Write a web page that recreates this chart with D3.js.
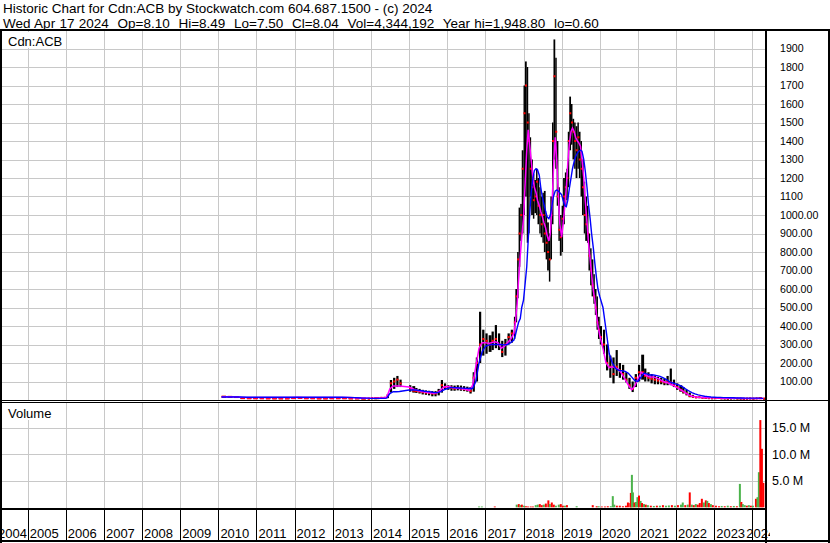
<!DOCTYPE html>
<html>
<head>
<meta charset="utf-8">
<script src="https://cdn.jsdelivr.net/npm/d3@7"></script>
<style>
  body { margin: 0; background: #fff; }
  svg { display: block; font-family: "Liberation Sans", Arial, sans-serif; }
</style>
</head>
<body>
<svg id="chart" width="830" height="543"></svg>
<script>
// ---- header text ----
const titleLine = "Historic Chart for Cdn:ACB by Stockwatch.com 604.687.1500 - (c) 2024"
const quoteLine = "Wed Apr 17 2024  Op=8.10  Hi=8.49  Lo=7.50  Cl=8.04  Vol=4,344,192  Year hi=1,948.80  lo=0.60"
const symbol = "Cdn:ACB"

// ---- price series (2010-2013 every 2 months, then monthly, semi-monthly around the 2018 bubble) ----
const dates = [
  "2010-02-01","2010-04-01","2010-06-01","2010-08-01","2010-10-01","2010-12-01",
  "2011-02-01","2011-04-01","2011-06-01","2011-08-01","2011-10-01","2011-12-01",
  "2012-02-01","2012-04-01","2012-06-01","2012-08-01","2012-10-01","2012-12-01",
  "2013-02-01","2013-04-01","2013-06-01","2013-08-01","2013-10-01","2013-12-01",
  "2014-01-01","2014-02-01","2014-03-01","2014-04-01","2014-05-01","2014-06-01","2014-07-01","2014-08-01","2014-09-01","2014-10-01",
  "2015-01-01","2015-02-01","2015-03-01","2015-04-01","2015-05-01","2015-06-01","2015-07-01","2015-08-01","2015-09-01","2015-10-01","2015-11-01","2015-12-01",
  "2016-01-01","2016-02-01","2016-03-01","2016-04-01","2016-05-01","2016-06-01","2016-07-01","2016-08-01","2016-09-01","2016-10-01","2016-11-01","2016-12-01",
  "2017-01-01","2017-02-01","2017-03-01","2017-04-01","2017-05-01","2017-06-01","2017-07-01","2017-08-01","2017-09-01",
  "2017-10-01","2017-10-15","2017-11-01","2017-11-15","2017-12-01","2017-12-15",
  "2018-01-01","2018-01-15","2018-02-01","2018-02-15","2018-03-01","2018-03-15","2018-04-01","2018-04-15","2018-05-01","2018-05-15","2018-06-01","2018-06-15",
  "2018-07-01","2018-07-15","2018-08-01","2018-08-15","2018-09-01","2018-09-15","2018-10-01","2018-10-15","2018-11-01","2018-11-15","2018-12-01","2018-12-15",
  "2019-01-01","2019-01-15","2019-02-01","2019-02-15","2019-03-01","2019-03-15","2019-04-01","2019-04-15","2019-05-01","2019-05-15","2019-06-01","2019-06-15",
  "2019-07-01","2019-07-15","2019-08-01","2019-08-15","2019-09-01","2019-09-15","2019-10-01","2019-10-15","2019-11-01","2019-11-15","2019-12-01","2019-12-15",
  "2020-01-01","2020-02-01","2020-03-01","2020-04-01","2020-05-01","2020-06-01","2020-07-01","2020-08-01","2020-09-01","2020-10-01","2020-11-01","2020-12-01",
  "2021-01-01","2021-02-01","2021-03-01","2021-04-01","2021-05-01","2021-06-01","2021-07-01","2021-08-01","2021-09-01","2021-10-01","2021-11-01","2021-12-01",
  "2022-01-01","2022-02-01","2022-03-01","2022-04-01","2022-05-01","2022-06-01","2022-07-01","2022-08-01","2022-09-01","2022-10-01","2022-11-01","2022-12-01",
  "2023-01-01","2023-02-01","2023-03-01","2023-04-01","2023-05-01","2023-06-01","2023-07-01","2023-08-01","2023-09-01","2023-10-01","2023-11-01","2023-12-01",
  "2024-01-01","2024-02-01","2024-03-01","2024-04-15"
]
const highs = [
  22,21,20,16,14,14, 15,14,14,13,13,14, 16,14,14,13,13,14, 14,14,13,13,12,12,
  12,12,13,14,14,30,108,120,130,110,
  80,75,65,60,55,52,50,48,48,60,108,90,
  80,80,78,80,78,75,72,70,150,230,477,380,
  360,350,370,405,360,320,330,360,380,
  450,600,800,1040,1060,1350,
  1700,1830,1800,1550,1420,1300,1220,1190,1250,1200,1150,1100,
  1120,1130,1000,960,900,1100,1500,1949,1850,1400,1150,1000,
  1050,1200,1230,1250,1450,1640,1600,1520,1500,1480,1500,1450,
  1400,1300,1180,1100,1050,900,820,760,680,600,560,450,
  400,380,300,240,230,270,200,190,150,120,100,140,
  190,245,170,150,140,130,125,120,115,130,170,110,
  90,80,70,55,40,28,20,18,16,14,13,12,
  13,14,12,11,10,11,12,11,10,9,10,11,
  10,12,13,9
]
const lows = [
  12,12,11,6,6,6, 6,6,5,5,5,6, 7,6,6,5,5,6, 6,6,5,5,5,5,
  8,8,8,9,9,10,40,60,70,70,
  45,40,38,35,30,28,25,20,20,25,40,55,
  55,50,50,52,50,48,45,35,45,100,200,240,
  250,260,270,280,270,232,240,300,310,
  330,420,550,720,860,900,
  1000,1100,850,900,1100,1000,980,1010,1000,950,900,880,
  850,800,760,700,640,760,950,1300,1250,1050,860,780,
  800,950,1050,1080,1150,1350,1380,1300,1250,1200,1250,1200,
  1100,1000,900,860,850,700,620,560,520,460,380,330,
  300,250,160,120,90,130,120,110,95,60,43,70,
  100,110,100,100,90,85,85,85,80,80,80,70,
  55,45,35,25,15,12,10,11,10,9,8,8,
  8,9,8,7,7,7,8,7,6,6,6,7,
  6,7,7,7
]
const closes = [
  18,17,16,10,9,9, 9,8,8,8,8,10, 11,9,9,8,8,9, 9,9,8,8,7,7,
  10,10,10,12,12,25,90,100,110,90,
  60,50,48,45,42,40,38,35,35,45,80,70,
  68,65,62,65,62,58,55,48,120,200,300,330,
  320,300,320,330,300,260,300,340,360,
  420,560,760,900,1000,1250,
  1550,1700,1500,1400,1250,1150,1080,1100,1180,1050,1000,950,
  1000,900,850,800,760,1000,1400,1750,1450,1100,920,880,
  980,1100,1150,1200,1400,1550,1500,1450,1400,1350,1420,1300,
  1250,1150,1000,950,900,780,700,620,560,500,420,380,
  340,300,200,180,140,180,160,140,110,80,60,120,
  150,150,130,120,115,110,105,100,95,100,95,80,
  70,55,45,35,22,18,14,15,12,11,10,10,
  10,11,9,9,8,9,10,8,8,7,8,9,
  8,9,10,8
]
// short moving average (magenta) and long moving average (blue)
const maShort = [
  18,18,17,15,14,14, 14,13,13,13,13,14, 15,14,14,13,13,13, 13,13,13,12,11,10,
  10,10,10,11,12,15,60,76,76,76,
  70,62,55,50,46,43,41,38,37,40,55,70,
  74,70,66,64,62,60,57,52,80,180,280,310,
  310,305,310,315,310,280,290,310,330,
  360,420,520,650,780,880,
  980,1150,1350,1460,1380,1300,1200,1150,1120,1080,1050,1020,
  990,960,930,890,860,900,1050,1250,1420,1300,1100,950,
  880,950,1050,1150,1280,1380,1450,1470,1450,1420,1400,1390,
  1370,1300,1200,1080,960,850,760,680,590,540,460,400,
  350,280,200,175,180,175,165,140,110,80,55,75,
  115,150,140,130,125,125,118,110,100,95,88,80,
  70,60,50,38,28,20,17,15,14,13,12,12,
  12,11,11,10,10,10,9,9,9,8,8,8,
  8,8,8,8
]
const maLong = [
  16,16,16,16,15,15, 15,15,15,15,15,15, 15,15,15,15,15,15, 15,15,14,13,11,10,
  9,9,9,9,9,10,35,45,45,46,
  54,54,54,52,50,47,45,43,40,40,45,55,
  62,67,67,66,65,64,63,62,62,100,200,260,
  290,297,300,300,300,300,298,300,310,
  324,350,390,420,440,500,
  540,620,720,865,1000,1120,1200,1240,1250,1245,1215,1150,
  1095,1060,1020,990,980,1000,1050,1100,1130,1135,1130,1120,
  1110,1080,1050,1045,1080,1140,1200,1250,1290,1315,1335,1345,
  1350,1345,1300,1240,1150,1060,980,900,820,740,660,600,
  560,500,380,250,200,170,160,158,155,145,125,105,
  100,125,145,140,135,135,132,128,120,110,98,92,
  86,80,72,60,50,40,33,28,24,20,18,16,
  15,14,14,13,13,12,12,11,11,11,10,10,
  10,10,10,9
]

// ---- volume (millions), up = 1 green / 0 red ----
const volDates = [
  "2016-11-01","2016-11-28","2017-04-01","2017-10-28","2017-11-17","2017-12-01","2017-12-16",
  "2018-01-05","2018-01-24","2018-02-13","2018-03-11","2018-04-01","2018-04-28","2018-05-17","2018-06-06","2018-06-25",
  "2018-07-14","2018-08-03","2018-08-27","2018-09-10","2018-09-29","2018-10-18","2018-11-07","2018-12-05","2018-12-24",
  "2019-01-13","2019-02-02","2019-02-21","2019-05-25","2019-10-26","2019-12-03","2019-12-22",
  "2020-01-21","2020-02-20","2020-03-18","2020-04-16","2020-05-05","2020-05-19","2020-06-13","2020-07-11","2020-08-10",
  "2020-09-08","2020-09-27","2020-10-20","2020-10-25","2020-11-04","2020-11-14","2020-11-28","2020-12-12","2020-12-27",
  "2021-01-11","2021-01-26","2021-02-09","2021-02-28","2021-03-17","2021-04-06","2021-05-04","2021-06-02","2021-07-01",
  "2021-07-30","2021-08-28","2021-09-26","2021-10-24","2021-11-22","2021-12-21",
  "2022-01-19","2022-02-17","2022-03-06","2022-03-30","2022-04-23","2022-05-12","2022-06-01","2022-06-20","2022-07-09",
  "2022-07-28","2022-08-16","2022-09-05","2022-09-24","2022-10-13","2022-10-27","2022-11-11","2022-11-30","2022-12-19",
  "2023-01-18","2023-02-16","2023-03-14","2023-04-12","2023-05-11","2023-06-09","2023-07-08","2023-08-06","2023-09-04",
  "2023-09-18","2023-10-02","2023-10-21","2023-11-10","2023-11-29","2023-12-18",
  "2024-01-07","2024-02-05","2024-02-20","2024-03-04","2024-03-18","2024-04-02","2024-04-16"
]
const volValues = [
  0.15,0.15,0.15,0.5,0.6,0.4,0.5,
  0.3,0.2,0.15,0.15,0.15,0.4,0.5,0.6,0.4,
  0.5,0.7,1.3,0.6,0.9,0.5,0.3,0.5,0.6,
  0.3,0.3,0.4,0.2,0.4,0.2,0.2,
  0.15,0.15,0.2,0.2,2.1,0.5,0.3,0.3,0.2,
  0.3,0.9,0.8,2.7,6.1,2.8,0.9,1.0,1.9,
  2.2,1.2,0.8,0.6,0.5,0.4,0.3,0.25,0.3,
  0.3,0.4,0.3,0.35,0.4,0.3,
  0.4,0.5,0.9,0.4,0.5,2.8,0.5,0.4,0.6,
  0.5,0.8,1.6,0.9,1.3,1.2,0.8,0.6,0.4,
  0.3,0.2,0.25,0.2,0.3,0.2,0.25,0.2,4.4,
  1.0,0.6,0.4,0.3,0.4,0.3,
  0.3,1.6,1.9,6.6,16.4,11.0,4.6
]
const volUp = [
  1,1,0,1,0,1,0,
  1,0,0,0,0,1,1,0,0,
  1,0,0,1,0,0,1,1,0,
  0,1,0,1,0,0,1,
  0,0,0,1,1,1,0,0,0,
  0,0,0,0,1,1,0,1,1,
  0,1,0,1,0,1,0,1,0,
  1,0,1,1,0,1,
  0,1,1,0,1,0,1,0,1,
  0,0,0,1,0,1,0,1,0,
  0,0,1,0,1,0,1,0,1,
  0,1,1,0,1,0,
  1,0,1,1,0,0,0
]

// ---- axis labels ----
const years = d3.range(2004, 2025)
const priceTicks = d3.range(100, 2000, 100)
const priceTickLabels = ["100.00","200.00","300.00","400.00","500.00","600.00","700.00","800.00","900.00","1000.00",
  "1100","1200","1300","1400","1500","1600","1700","1800","1900"]
const volTicks = [5, 10, 15]
const volTickLabels = ["5.0 M", "10.0 M", "15.0 M"]

// ---------------------------------------------------------------
const parse = d3.timeParse("%Y-%m-%d")
const plotL = 1, plotR = 765
const priceTop = 31, priceBot = 400
const volTop = 402, volBot = 508

const x = d3.scaleTime()
  .domain([new Date(2005, 0, 1), new Date(2024, 0, 1)])
  .range([27.7, 752.3])
const yP = d3.scaleLinear().domain([0, 2000]).range([400, 30])
const yV = d3.scaleLinear().domain([0, 19.8]).range([507.3, 402])

const prices = dates.map((d, i) => ({
  date: parse(d), hi: highs[i], lo: lows[i], cl: closes[i], mf: maShort[i], ms: maLong[i]
}))
const vols = volDates.map((d, i) => ({ date: parse(d), v: volValues[i], up: volUp[i] }))

const svg = d3.select("#chart")
svg.append("rect").attr("width", 830).attr("height", 543).attr("fill", "#fff")

const defs = svg.append("defs")
defs.append("clipPath").attr("id", "clipPrice")
  .append("rect").attr("x", plotL).attr("y", priceTop).attr("width", plotR - plotL).attr("height", priceBot - priceTop)
defs.append("clipPath").attr("id", "clipVol")
  .append("rect").attr("x", plotL).attr("y", volTop).attr("width", plotR - plotL).attr("height", volBot - volTop)
defs.append("clipPath").attr("id", "clipAxis")
  .append("rect").attr("x", 0).attr("y", 509).attr("width", 770).attr("height", 34)

const yearStarts = years.map(y => x(new Date(y, 0, 1)))

/* grid lines */
const grid = svg.append("g").attr("stroke", "#c8c8c8").attr("stroke-width", 1).attr("shape-rendering", "crispEdges")
grid.selectAll(".hp").data(priceTicks).enter().append("line")
  .attr("x1", plotL).attr("x2", plotR)
  .attr("y1", d => Math.round(yP(d)) + 0.5).attr("y2", d => Math.round(yP(d)) + 0.5)
grid.selectAll(".hv").data(volTicks).enter().append("line")
  .attr("x1", plotL).attr("x2", plotR)
  .attr("y1", d => Math.round(yV(d)) + 0.5).attr("y2", d => Math.round(yV(d)) + 0.5)
grid.selectAll(".vp").data(yearStarts.filter(v => v > plotL && v < plotR)).enter().append("line")
  .attr("x1", d => Math.round(d) + 0.5).attr("x2", d => Math.round(d) + 0.5)
  .attr("y1", priceTop).attr("y2", priceBot)
grid.selectAll(".vv").data(yearStarts.filter(v => v > plotL && v < plotR)).enter().append("line")
  .attr("x1", d => Math.round(d) + 0.5).attr("x2", d => Math.round(d) + 0.5)
  .attr("y1", volTop).attr("y2", volBot)

/* price bars */
const pg = svg.append("g").attr("clip-path", "url(#clipPrice)")
const barW = (d, i) => {
  if (i === prices.length - 1) return 1.6
  const gap = x(prices[i + 1].date) - x(d.date)
  if (gap > 7) return 2.2
  return gap > 3 ? Math.min(gap, 6.4) * 0.7 : gap
}
pg.selectAll(".bar").data(prices).enter().append("rect")
  .attr("x", d => x(d.date))
  .attr("y", d => yP(d.hi))
  .attr("width", barW)
  .attr("height", d => Math.max(1.5, yP(d.lo) - yP(d.hi)))
  .attr("fill", "#000")
pg.selectAll(".cl").data(prices).enter().append("rect")
  .attr("x", d => x(d.date))
  .attr("y", d => yP(d.cl) - 1)
  .attr("width", (d, i) => Math.max(2, barW(d, i)))
  .attr("height", 2)
  .attr("fill", "#ff0000")

const lineShort = d3.line().x(d => x(d.date)).y(d => yP(d.mf))
const lineLong = d3.line().x(d => x(d.date)).y(d => yP(d.ms))
pg.append("path").datum(prices).attr("d", lineShort)
  .attr("fill", "none").attr("stroke", "#ff00ff").attr("stroke-width", 1.5)
pg.append("path").datum(prices).attr("d", lineLong)
  .attr("fill", "none").attr("stroke", "#0000ff").attr("stroke-width", 1.4)

/* volume bars */
const vg = svg.append("g").attr("clip-path", "url(#clipVol)")
vg.selectAll(".vol").data(vols).enter().append("rect")
  .attr("x", d => x(d.date) - 1)
  .attr("y", d => yV(d.v))
  .attr("width", 2)
  .attr("height", d => Math.max(0.8, yV(0) - yV(d.v)))
  .attr("fill", d => d.up ? "#4cb34c" : "#ff0000")

/* panel labels */
svg.append("rect").attr("x", 2).attr("y", 32).attr("width", 62).attr("height", 16).attr("fill", "#fff")
svg.append("text").attr("x", 8).attr("y", 46).attr("font-size", 13).attr("fill", "#000").text(symbol)
svg.append("rect").attr("x", 2).attr("y", 403).attr("width", 62).attr("height", 17).attr("fill", "#fff")
svg.append("text").attr("x", 8).attr("y", 418).attr("font-size", 13).attr("fill", "#000").text("Volume")

/* right axes */
const pAxis = svg.append("g").attr("transform", "translate(780,0)")
  .call(d3.axisRight(yP).tickValues(priceTicks).tickFormat((d, i) => priceTickLabels[i]).tickSize(0).tickPadding(0))
const vAxis = svg.append("g").attr("transform", "translate(772,0)")
  .call(d3.axisRight(yV).tickValues(volTicks).tickFormat((d, i) => volTickLabels[i]).tickSize(0).tickPadding(0))
for (const g of [pAxis, vAxis]) {
  g.select(".domain").remove()
  g.selectAll("text").attr("fill", "#000").attr("font-family", "'Liberation Sans', Arial, sans-serif")
}
pAxis.selectAll("text").attr("font-size", 10.6)
vAxis.selectAll("text").attr("font-size", 12.5)

/* year axis */
const xa = svg.append("g").attr("clip-path", "url(#clipAxis)")
xa.selectAll(".sep").data(yearStarts.slice(1)).enter().append("line")
  .attr("x1", d => Math.round(d) + 0.5).attr("x2", d => Math.round(d) + 0.5)
  .attr("y1", 509).attr("y2", 541)
  .attr("stroke", "#000").attr("stroke-width", 1)
xa.selectAll(".yl").data(years).enter().append("text")
  .attr("x", (d, i) => {
    if (i === 0) return -2
    if (i === years.length - 1) return yearStarts[i] - 6
    return yearStarts[i] + 2
  })
  .attr("y", 538)
  .attr("font-size", 13)
  .attr("fill", "#000")
  .text(d => d)

/* frame lines */
const frame = svg.append("g").attr("stroke", "#000").attr("shape-rendering", "crispEdges")
frame.append("line").attr("x1", 0).attr("x2", 830).attr("y1", 30).attr("y2", 30).attr("stroke-width", 2)
frame.append("line").attr("x1", 1).attr("x2", 1).attr("y1", 30).attr("y2", 543).attr("stroke-width", 2)
frame.append("line").attr("x1", 766).attr("x2", 766).attr("y1", 30).attr("y2", 543).attr("stroke-width", 2)
frame.append("line").attr("x1", 829).attr("x2", 829).attr("y1", 30).attr("y2", 543).attr("stroke-width", 2)
frame.append("line").attr("x1", 0).attr("x2", 830).attr("y1", 400).attr("y2", 400).attr("stroke-width", 1)
frame.append("line").attr("x1", 0).attr("x2", 766).attr("y1", 402).attr("y2", 402).attr("stroke-width", 1)
frame.append("line").attr("x1", 0).attr("x2", 766).attr("y1", 509).attr("y2", 509).attr("stroke-width", 2)
frame.append("line").attr("x1", 0).attr("x2", 830).attr("y1", 541).attr("y2", 541).attr("stroke-width", 2)

/* header */
svg.append("text").attr("x", 3).attr("y", 13).attr("font-size", 13.5).attr("fill", "#000").text(titleLine)
svg.append("text").attr("x", 3).attr("y", 28).attr("font-size", 13.5).attr("fill", "#000")
  .attr("word-spacing", 0.6)
  .attr("xml:space", "preserve").style("white-space", "pre").text(quoteLine)
</script>
</body>
</html>
